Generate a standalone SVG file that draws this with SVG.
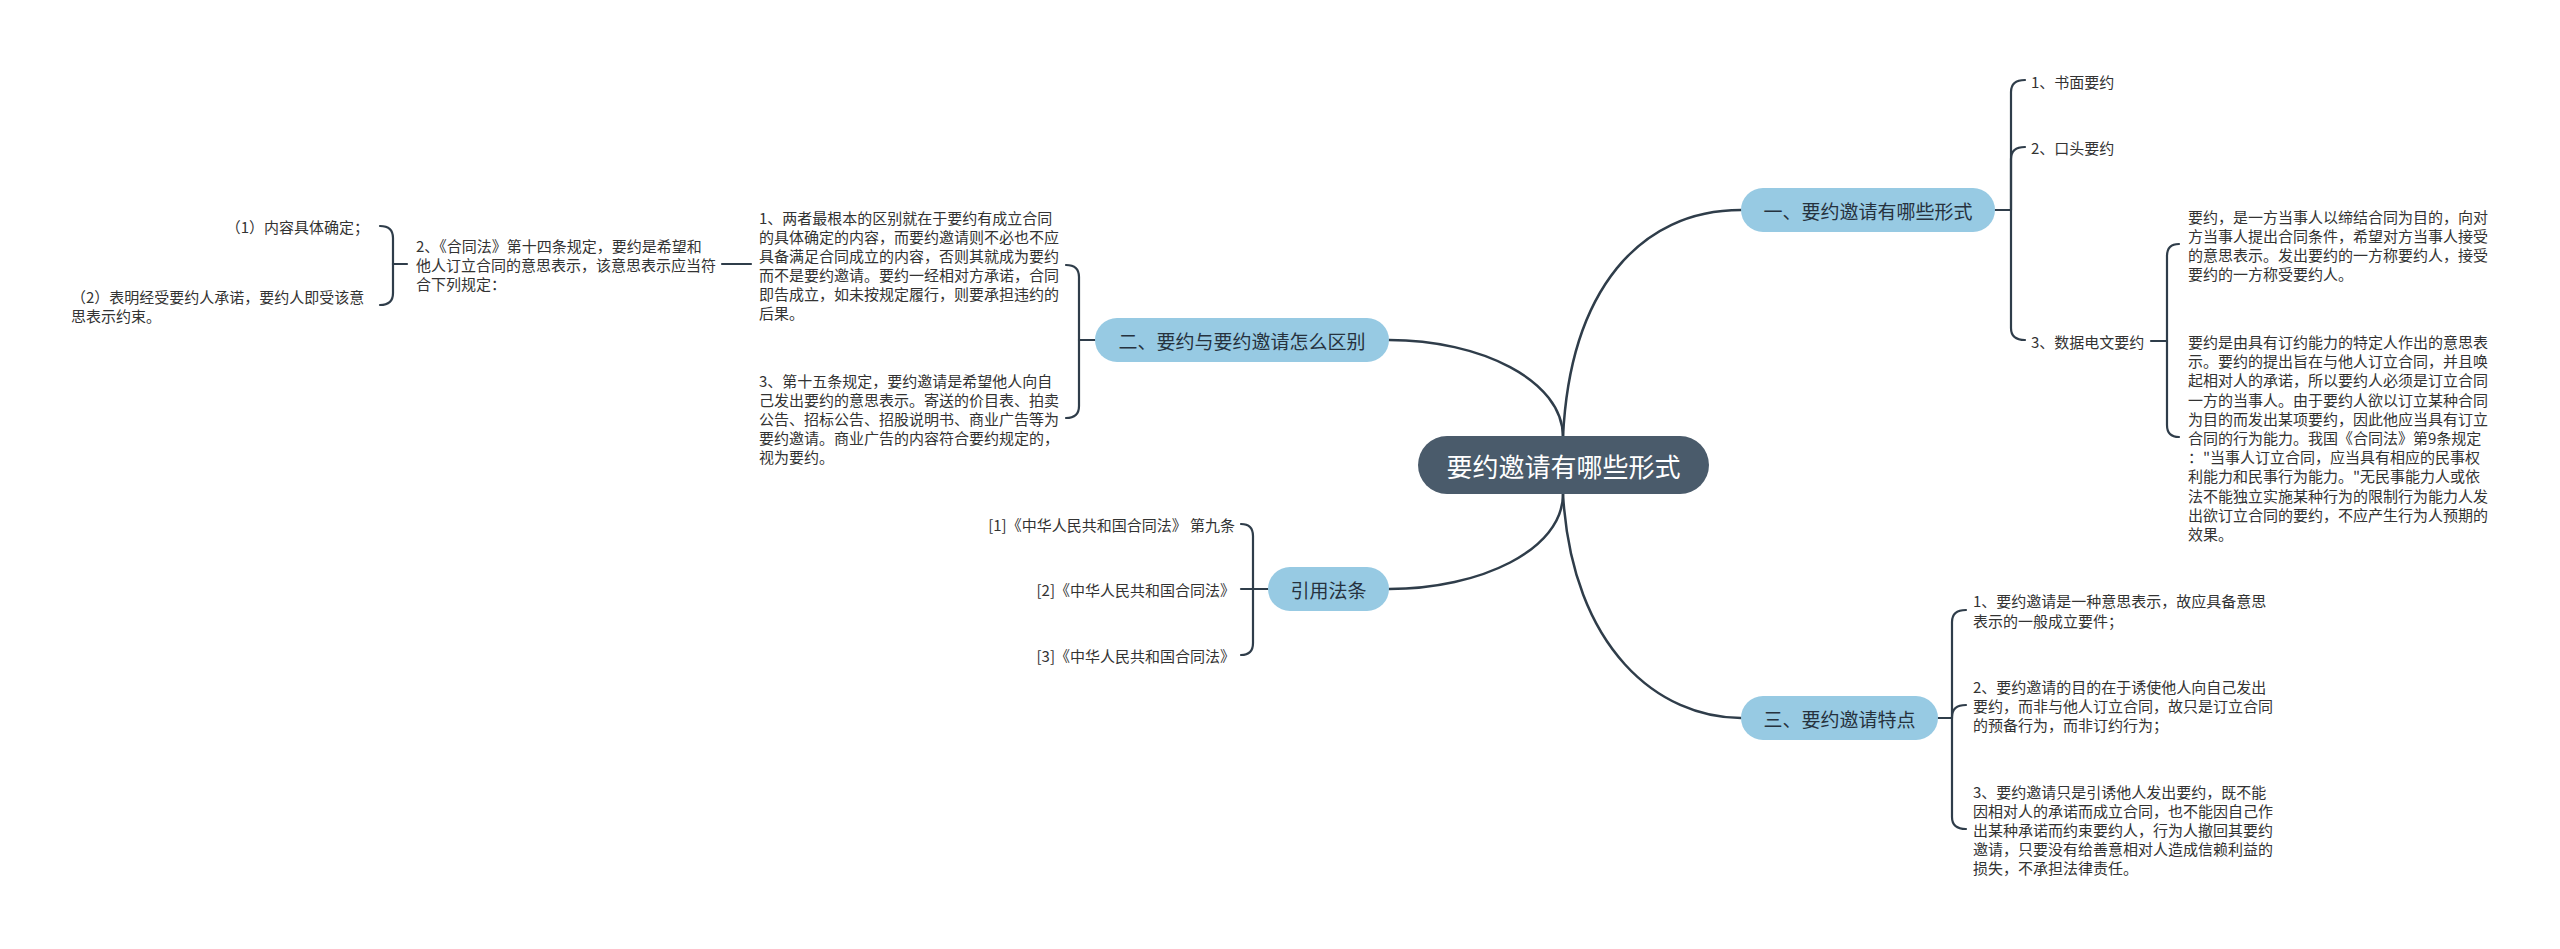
<svg xmlns="http://www.w3.org/2000/svg" width="2560" height="949" viewBox="0 0 2560 949">
<style>
.bg{fill:#ffffff}
.ln{fill:none;stroke:#2f3d4a;stroke-width:2.5;stroke-linecap:round}
.br{fill:none;stroke:#2f3d4a;stroke-width:2.2;stroke-linecap:round}
.root{fill:#4a5b6b}
.l1{fill:#97cae3}
.rt{font-family:"Noto Sans CJK SC","Noto Sans",sans-serif;font-size:26px;fill:#ffffff;text-anchor:middle;dominant-baseline:central}
.t1{font-family:"Noto Sans CJK SC","Noto Sans",sans-serif;font-size:19px;fill:#26323e;text-anchor:middle;dominant-baseline:central}
.tx{font-family:"Noto Sans CJK SC","Noto Sans",sans-serif;font-size:15px;fill:#333333;dominant-baseline:central}
.end{text-anchor:end}
</style>
<rect class="bg" x="0" y="0" width="2560" height="949"/>
<g id="connectors">
<path class="ln" d="M1563,437 C1563,380 1480,340 1389,340"/>
<path class="ln" d="M1563,437 C1570,290 1640,210 1741,210"/>
<path class="ln" d="M1563,494 C1563,550 1480,589 1389,589"/>
<path class="ln" d="M1563,494 C1572,650 1660,718 1741,718"/>
<!-- bracket 一 -->
<path class="br" d="M1995,210 L2011,210"/>
<path class="br" d="M2011,210 L2011,92 Q2011,80 2025,80"/>
<path class="br" d="M2011,210 L2011,159 Q2011,147 2025,147"/>
<path class="br" d="M2011,210 L2011,328 Q2011,340 2025,340"/>
<!-- bracket 数据电文要约 -->
<path class="br" d="M2151,341 L2167,341"/>
<path class="br" d="M2167,341 L2167,256 Q2167,244 2179,244"/>
<path class="br" d="M2167,341 L2167,425 Q2167,437 2179,437"/>
<!-- bracket 三 -->
<path class="br" d="M1938,718 L1952,718"/>
<path class="br" d="M1952,718 L1952,622 Q1952,610 1966,610"/>
<path class="br" d="M1952,718 L1952,717 Q1952,705 1966,705"/>
<path class="br" d="M1952,718 L1952,817 Q1952,829 1966,829"/>
<!-- bracket 二 -->
<path class="br" d="M1095,340 L1079,340"/>
<path class="br" d="M1079,340 L1079,277 Q1079,265 1066,265"/>
<path class="br" d="M1079,340 L1079,406 Q1079,418 1066,418"/>
<path class="br" d="M751,264 L722,264"/>
<!-- bracket 合同法第十四条 -->
<path class="br" d="M407,264 L393,264"/>
<path class="br" d="M393,264 L393,238 Q393,226 380,226"/>
<path class="br" d="M393,264 L393,293 Q393,305 380,305"/>
<!-- bracket 引用法条 -->
<path class="br" d="M1268,589 L1241,589"/>
<path class="br" d="M1253,589 L1253,536 Q1253,524 1241,524"/>
<path class="br" d="M1253,589 L1253,643 Q1253,655 1241,655"/>
</g>
<g id="root">
<rect class="root" x="1418" y="436" width="291" height="58" rx="29"/>
<text class="rt" x="1563.5" y="465">要约邀请有哪些形式</text>
</g>
<g id="n1">
<rect class="l1" x="1741" y="188" width="254" height="44" rx="22"/>
<text class="t1" x="1868" y="210">一、要约邀请有哪些形式</text>
</g>
<g id="n2">
<rect class="l1" x="1095" y="318" width="294" height="44" rx="22"/>
<text class="t1" x="1242" y="340">二、要约与要约邀请怎么区别</text>
</g>
<g id="n3">
<rect class="l1" x="1741" y="696" width="197" height="44" rx="22"/>
<text class="t1" x="1839.5" y="718">三、要约邀请特点</text>
</g>
<g id="n4">
<rect class="l1" x="1268" y="567" width="121" height="44" rx="22"/>
<text class="t1" x="1328.5" y="589">引用法条</text>
</g>
<g id="n1-1"><text class="tx" x="2031" y="81">1、书面要约</text></g>
<g id="n1-2"><text class="tx" x="2031" y="147">2、口头要约</text></g>
<g id="n1-3"><text class="tx" x="2031" y="341">3、数据电文要约</text></g>
<g id="n1-3-1">
<text class="tx" x="2188" y="216">要约，是一方当事人以缔结合同为目的，向对</text>
<text class="tx" x="2188" y="235">方当事人提出合同条件，希望对方当事人接受</text>
<text class="tx" x="2188" y="254">的意思表示。发出要约的一方称要约人，接受</text>
<text class="tx" x="2188" y="273">要约的一方称受要约人。</text>
</g>
<g id="n1-3-2">
<text class="tx" x="2188" y="341">要约是由具有订约能力的特定人作出的意思表</text>
<text class="tx" x="2188" y="360">示。要约的提出旨在与他人订立合同，并且唤</text>
<text class="tx" x="2188" y="379">起相对人的承诺，所以要约人必须是订立合同</text>
<text class="tx" x="2188" y="399">一方的当事人。由于要约人欲以订立某种合同</text>
<text class="tx" x="2188" y="418">为目的而发出某项要约，因此他应当具有订立</text>
<text class="tx" x="2188" y="437">合同的行为能力。我国《合同法》第9条规定</text>
<text class="tx" x="2188" y="456">："当事人订立合同，应当具有相应的民事权</text>
<text class="tx" x="2188" y="475">利能力和民事行为能力。"无民事能力人或依</text>
<text class="tx" x="2188" y="495">法不能独立实施某种行为的限制行为能力人发</text>
<text class="tx" x="2188" y="514">出欲订立合同的要约，不应产生行为人预期的</text>
<text class="tx" x="2188" y="533">效果。</text>
</g>
<g id="n3-1">
<text class="tx" x="1973" y="600">1、要约邀请是一种意思表示，故应具备意思</text>
<text class="tx" x="1973" y="620">表示的一般成立要件；</text>
</g>
<g id="n3-2">
<text class="tx" x="1973" y="686">2、要约邀请的目的在于诱使他人向自己发出</text>
<text class="tx" x="1973" y="705">要约，而非与他人订立合同，故只是订立合同</text>
<text class="tx" x="1973" y="724">的预备行为，而非订约行为；</text>
</g>
<g id="n3-3">
<text class="tx" x="1973" y="791">3、要约邀请只是引诱他人发出要约，既不能</text>
<text class="tx" x="1973" y="810">因相对人的承诺而成立合同，也不能因自己作</text>
<text class="tx" x="1973" y="829">出某种承诺而约束要约人，行为人撤回其要约</text>
<text class="tx" x="1973" y="848">邀请，只要没有给善意相对人造成信赖利益的</text>
<text class="tx" x="1973" y="867">损失，不承担法律责任。</text>
</g>
<g id="n2-1">
<text class="tx" x="759" y="217">1、两者最根本的区别就在于要约有成立合同</text>
<text class="tx" x="759" y="236">的具体确定的内容，而要约邀请则不必也不应</text>
<text class="tx" x="759" y="255">具备满足合同成立的内容，否则其就成为要约</text>
<text class="tx" x="759" y="274">而不是要约邀请。要约一经相对方承诺，合同</text>
<text class="tx" x="759" y="293">即告成立，如未按规定履行，则要承担违约的</text>
<text class="tx" x="759" y="312">后果。</text>
</g>
<g id="n2-2">
<text class="tx" x="759" y="380">3、第十五条规定，要约邀请是希望他人向自</text>
<text class="tx" x="759" y="399">己发出要约的意思表示。寄送的价目表、拍卖</text>
<text class="tx" x="759" y="418">公告、招标公告、招股说明书、商业广告等为</text>
<text class="tx" x="759" y="437">要约邀请。商业广告的内容符合要约规定的，</text>
<text class="tx" x="759" y="456">视为要约。</text>
</g>
<g id="n2-1-1">
<text class="tx" x="416" y="245">2、《合同法》第十四条规定，要约是希望和</text>
<text class="tx" x="416" y="264">他人订立合同的意思表示，该意思表示应当符</text>
<text class="tx" x="416" y="283">合下列规定：</text>
</g>
<g id="n2-1-1-1"><text class="tx end" x="369" y="226">（1）内容具体确定；</text></g>
<g id="n2-1-1-2">
<text class="tx" x="71" y="296">（2）表明经受要约人承诺，要约人即受该意</text>
<text class="tx" x="71" y="315">思表示约束。</text>
</g>
<g id="n4-1"><text class="tx end" x="1235" y="524">[1]《中华人民共和国合同法》 第九条</text></g>
<g id="n4-2"><text class="tx end" x="1235" y="589">[2]《中华人民共和国合同法》</text></g>
<g id="n4-3"><text class="tx end" x="1235" y="655">[3]《中华人民共和国合同法》</text></g>
</svg>
